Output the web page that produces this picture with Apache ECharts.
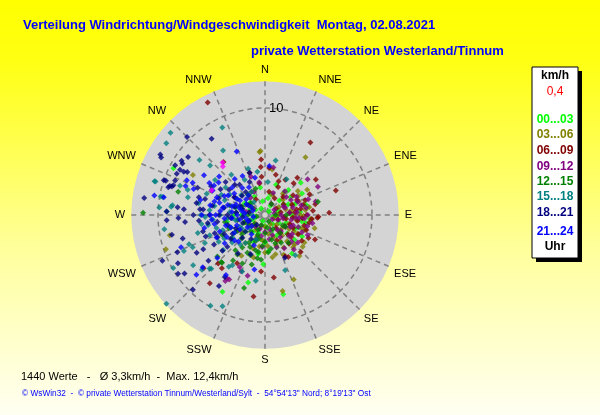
<!DOCTYPE html>
<html lang="de">
<head>
<meta charset="UTF-8">
<title>Windrichtung/Windgeschwindigkeit</title>
<script src="https://cdn.jsdelivr.net/npm/echarts@6/dist/echarts.min.js"></script>
<style>
  html, body { margin: 0; padding: 0; }
  #chart { width: 600px; height: 415px; }
</style>
</head>
<body>
<div id="chart"></div>
<script>
// Himmelsrichtungen, im Uhrzeigersinn ab Nord
const directions = ['N', 'NNE', 'NE', 'ENE', 'E', 'ESE', 'SE', 'SSE',
                    'S', 'SSW', 'SW', 'WSW', 'W', 'WNW', 'NW', 'NNW'];

const hourLabels = ['00...03', '03...06', '06...09', '09...12',
                    '12...15', '15...18', '18...21', '21...24'];
const hourColors = ['#00ff00', '#808000', '#800000', '#800080',
                    '#008000', '#008080', '#000080', '#0000ff'];

// Werte je Zeitfenster: [Geschwindigkeit km/h, Richtung Grad]
const h00 = [[9.6,297],[8.2,209],[6.5,194],[4.6,182],[7.6,167],[3.9,101],[4.1,79],[4.5,48],[3.2,43],
  [2.0,60],[2.5,90],[1.5,120],[3.0,70],[1.0,30],[2.2,150],[3.4,110],[2.8,40],[1.8,200],[3.6,130],
  [1.2,250],[0.8,100],[2.6,180],[3.0,20],[4.0,60],[2.0,330],[1.5,290],[3.2,160],[2.4,230],[4.2,95],
  [1.0,180],[2.9,270],[3.7,190],[1.6,10],[2.2,300],[4.4,145],
  [1.3,75],[2.1,110],[2.7,130],[1.9,45],[3.3,85],[0.6,200],[1.1,140],[2.4,65],[3.5,100],[1.7,160],
  [2.9,55],[0.9,260],[2.3,190],[3.1,115],[1.4,220],[4.0,120],[2.0,15],[2.6,350],[1.8,310],[3.9,75],
  [1.2,95],[2.7,205],[0.5,45],[3.4,175],[2.1,250],
  [1.5,250],[2.2,270],[2.8,285],[1.0,300],[3.3,240],[1.9,215],[0.7,330],[2.5,320],[3.6,260],[1.3,350]];
const h03 = [[6.6,35],[6.0,356],[5.9,355],[6.6,156],[7.3,167],[4.0,139],[3.6,91],[9.8,251],[9.1,258],
  [4.3,9],[4.6,59],[3.8,54],[3.4,68],[2.7,68],[3.8,83],[7.7,299],
  [2.5,80],[3.0,100],[2.0,130],[3.5,120],[1.5,60],[2.8,150],[4.0,110],[1.8,170],[3.2,140],[4.5,125],
  [2.2,200],[3.8,165],[1.2,90],[4.2,80],[2.6,40],[3.0,190],[1.0,150],[4.8,105],[2.4,110],[3.6,60],
  [5.0,140],[2.0,20],[1.6,230],
  [1.8,100],[2.6,120],[3.3,90],[2.2,160],[3.9,135],[1.4,130],[2.9,175],[3.5,150],[4.3,95],[1.1,180],
  [2.0,75],[3.1,120],[4.1,155],[2.4,185],[1.6,210],[3.7,110],[2.8,95],[4.6,130],[1.9,140],[3.3,200],
  [2.5,140],[0.9,110],[4.0,170],[3.0,160],[2.2,50],
  [1.2,230],[2.0,250],[3.2,215],[2.7,235],[4.1,195],[1.5,280],[3.5,180],[4.4,210]];
const h06 = [[11.8,333],[8.0,32],[7.0,71],[5.2,356],[6.3,322],[4.5,355],[8.2,219],[7.7,188],[5.3,184],
  [5.9,172],[4.8,136],[6.0,88],[4.9,93],[5.0,92],[5.2,116],[4.6,118],[4.5,151],[4.3,154],[5.8,55],
  [4.6,41],[4.0,42],[3.4,22],[7.6,229],[6.3,224],[6.4,219],[5.2,210],
  [3.0,80],[3.5,95],[2.5,110],[4.0,70],[2.0,60],[3.8,105],[4.2,100],[2.8,130],[1.5,80],[3.2,55],
  [4.5,85],[2.2,140],[3.6,120],[1.8,30],[4.8,78],[2.6,95],[3.3,65],
  [2.3,85],[3.1,100],[1.8,95],[2.7,70],[3.9,90],[2.1,120],[3.4,80],[4.4,95],[1.3,110],[2.9,115],
  [3.7,75],[2.4,45],[1.6,140],[4.1,110],[3.2,130],[2.0,100],[4.6,65],[3.5,140],[1.2,60],[2.8,85],
  [3.0,350],[2.5,330],[3.8,30],[2.6,155],[4.2,125],
  [3.6,355],[4.2,340],[2.2,10],[3.9,15],[1.7,330],[2.9,25],[4.4,5]];
const h09 = [[5.2,50],[5.6,62],[4.9,75],[3.3,68],[6.9,209],[6.9,211],[7.2,211],[5.4,206],[5.7,203],[5.9,196],
  [1.5,90],[2.0,70],[2.5,100],[3.0,85],[1.0,60],[2.2,120],[3.5,75],[2.8,110],[1.8,140],[3.2,95],
  [4.0,90],[1.2,30],[2.6,50],[3.8,115],[2.0,160],[4.3,70],[3.0,130],[1.6,180],[2.4,200],[3.4,60],
  [0.8,120],[4.5,100],[2.9,40],[3.6,150],[1.4,220],[2.2,20],[4.0,130],
  [1.7,100],[2.3,85],[2.9,95],[3.3,110],[1.3,110],[2.1,135],[3.7,95],[2.7,75],[1.9,65],[3.1,125],
  [4.1,105],[0.9,80],[2.5,145],[3.5,135],[1.5,160],[2.3,170],[3.9,80],[2.8,60],[1.1,200],[3.2,160],
  [4.4,115],[2.0,190],[1.7,240],[3.0,185],[2.6,115],[4.2,140],[1.2,300],[2.4,335],
  [1.8,280],[2.6,260],[3.3,300],[2.1,320],[3.8,340],[4.5,10],[2.9,240],[1.4,200],[3.1,350]];
const h12 = [[11.4,271],[8.4,285],[6.0,222],[7.1,196],[5.9,229],[6.0,223],[5.1,76],
  [2.0,200],[2.5,180],[3.0,210],[3.5,190],[1.5,150],[2.8,230],[4.0,200],[4.5,215],[1.8,240],
  [3.2,170],[2.2,120],[1.0,200],[3.8,235],[4.2,185],[2.6,260],[1.4,300],[3.0,150],[5.0,205],
  [2.0,90],[1.2,30],[3.6,250],[4.8,195],[2.4,320],[0.8,260],[3.4,140],[5.2,215],
  [1.7,180],[2.3,195],[2.9,185],[3.3,205],[1.2,170],[2.0,220],[3.7,215],[2.6,200],[1.5,205],
  [3.1,225],[4.1,190],[0.7,150],[2.4,165],[3.5,175],[2.0,250],[2.7,275],[3.9,205],[1.9,120],
  [1.0,90],[3.0,240],[4.3,220],[2.2,140],[1.6,270],[3.4,195],[2.8,160],
  [2.3,290],[3.1,265],[1.7,310],[2.6,340],[3.8,260],[4.4,245],[1.3,230],[3.4,285]];
const h15 = [[11.7,311],[9.1,334],[11.4,306],[5.2,11],[7.2,327],[8.0,310],[6.9,312],[10.8,287],
  [8.4,289],[9.9,280],[9.7,280],[8.8,275],[9.9,274],[8.7,276],[9.5,262],[9.9,240],[8.2,235],
  [7.8,229],[12.4,228],[9.9,211],[9.4,205],[7.2,226],[6.2,188],[5.7,202],[5.5,160],[4.7,143],
  [3.9,31],[5.7,305],[10.7,287],[7.6,288],[7.4,283],[9.2,272],[7.6,249],[7.4,246],[8.3,246],
  [7.1,225],[5.6,213],[5.9,215],
  [6.0,270],[5.4,260],[4.8,280],[4.2,250],[3.5,265],[5.0,240],[6.5,255],[3.0,285],[2.5,240],
  [4.0,230],[5.8,290],[3.8,300],[2.0,270],[6.2,245],[4.5,295],[1.5,250],[3.2,215],
  [2.8,260],[3.4,250],[4.2,270],[4.9,265],[5.5,250],[3.7,235],[2.2,285],[3.1,300],[4.4,240],
  [5.2,275],[1.9,230],[3.9,280],[4.7,255],[2.6,245],[6.0,262],[3.3,275],[5.1,230],[4.0,290],
  [1.2,270],[2.9,310],[5.6,268],[3.6,220],[4.5,305],[2.4,200],[6.3,280],
  [3.8,330],[4.6,340],[4.1,350],[3.1,5],[2.5,330],[2.0,300],[1.6,320],[4.9,320]];
const h18 = [[10.3,315],[8.7,325],[11.3,300],[11.1,299],[9.3,303],[9.0,307],[9.0,298],[8.6,298],
  [10.0,289],[9.3,287],[9.0,288],[11.4,278],[8.2,275],[9.2,272],[8.9,258],[10.5,246],[9.3,241],
  [9.8,236],[9.3,234],[9.7,224],[7.9,213],[6.9,213],[9.6,299],[9.1,302],[8.3,299],[9.1,295],
  [9.8,289],[9.4,286],[9.1,287],[9.0,291],[7.6,274],[9.2,267],[8.1,268],[7.5,265],[8.0,254],
  [8.9,247],[6.6,241],[7.3,241],[6.8,231],[4.4,155],
  [6.5,280],[5.8,285],[5.2,270],[4.5,262],[6.0,255],[5.5,295],[4.8,300],[3.9,280],[3.2,265],
  [2.5,290],[4.2,245],[5.0,250],[6.2,265],[3.5,240],[2.8,310],[4.0,315],[6.8,292],[5.5,240],
  [3.0,225],[2.2,250],[1.5,280],[4.6,230],[5.8,275],
  [3.6,255],[4.3,270],[5.0,280],[4.6,290],[3.3,300],[2.7,275],[5.4,262],[6.1,275],[3.9,235],
  [4.9,245],[2.1,265],[5.7,298],[4.1,305],[3.0,245],[6.4,285],[2.4,230],[4.4,215],[5.2,230],
  [6.7,270],[3.7,320],[1.8,300],[5.9,250],[4.8,310],[2.9,285],[3.5,270],
  [1.6,250],[2.2,285],[2.8,320],[3.4,335],[4.2,340],[1.2,220],[2.6,210],[3.9,200]];
const h21 = [[6.5,336],[10.5,280],[8.0,294],[7.6,230],[6.8,303],[7.4,294],[7.1,290],[7.9,290],
  [9.6,280],[8.4,249],[8.5,229],[6.7,213],[6.0,228],[5.2,191],[4.6,5],
  [5.5,300],[4.8,290],[4.2,275],[3.6,285],[3.0,300],[2.6,270],[3.8,255],[4.5,250],[5.0,265],
  [2.0,300],[1.8,260],[3.3,240],[4.0,310],[5.2,280],[2.4,320],[1.2,290],[3.5,225],[4.6,235],
  [5.8,258],[2.8,250],[6.2,283],[3.9,298],[1.6,230],[4.4,320],[5.6,310],[3.1,265],[2.2,280],
  [2.4,260],[3.1,275],[3.8,265],[4.4,285],[5.1,270],[2.9,290],[3.5,305],[4.2,295],[4.8,260],
  [5.4,295],[1.9,275],[2.7,240],[3.4,250],[4.1,240],[5.0,245],[2.3,310],[3.0,330],[5.9,270],
  [1.5,300],[4.6,270],[3.7,230],[2.0,235],[5.3,305],[6.0,300],[3.2,285],[4.0,280],
  [1.7,250],[2.5,285],[3.3,320],[4.2,330],[1.1,260],[2.2,215],[3.0,200],[3.6,345],[2.7,300],[4.9,285]];
const marked = [[6.0,319],[6.3,321],[5.5,295]];

const hourData = [h00, h03, h06, h09, h12, h15, h18, h21];

const chart = echarts.init(document.getElementById('chart'));

const series = hourData.map((d, i) => ({
    name: hourLabels[i],
    type: 'scatter',
    coordinateSystem: 'polar',
    symbol: 'diamond',
    symbolSize: 6,
    itemStyle: { color: hourColors[i] },
    data: d
}));
series.push({
    name: 'markiert',
    type: 'scatter',
    coordinateSystem: 'polar',
    symbol: 'diamond',
    symbolSize: 6,
    itemStyle: { color: '#ff00ff' },
    data: marked
});

// grauer Kreis hinter den Achsen
const elements = [
    { type: 'circle', z: -10, shape: { cx: 265, cy: 215, r: 133.75 }, style: { fill: '#d4d4d4' } }
];

// Legendenkasten rechts
elements.push(
    { type: 'rect', shape: { x: 536, y: 71, width: 46, height: 191 }, style: { fill: '#000' } },
    { type: 'rect', shape: { x: 532, y: 67, width: 46, height: 191 }, style: { fill: '#fff', stroke: '#000', lineWidth: 1 } },
    { type: 'text', x: 555, y: 76, style: { text: 'km/h', fill: '#000', font: 'bold 12px "Liberation Sans"', align: 'center', verticalAlign: 'middle' } },
    { type: 'text', x: 555, y: 92, style: { text: '0,4', fill: '#ff0000', font: '12px "Liberation Sans"', align: 'center', verticalAlign: 'middle' } },
    { type: 'text', x: 555, y: 247, style: { text: 'Uhr', fill: '#000', font: 'bold 12px "Liberation Sans"', align: 'center', verticalAlign: 'middle' } }
);
const legendY = [120, 135, 151, 167, 182, 197, 213, 232];
hourLabels.forEach((lab, i) => {
    elements.push({
        type: 'text', x: 555, y: legendY[i],
        style: { text: lab, fill: hourColors[i], font: 'bold 12px "Liberation Sans"', align: 'center', verticalAlign: 'middle' }
    });
});

elements.push(
    { type: 'text', x: 21, y: 377, style: { text: '1440 Werte   -   Ø 3,3km/h  -  Max. 12,4km/h', fill: '#000', font: '11px "Liberation Sans"', verticalAlign: 'middle' } },
    { type: 'text', x: 22, y: 394, style: { text: '© WsWin32  -  © private Wetterstation Tinnum/Westerland/Sylt  -  54°54\'13" Nord; 8°19\'13" Ost', fill: '#0000ff', font: '8.3px "Liberation Sans"', verticalAlign: 'middle' } }
);

chart.setOption({
    animation: false,
    backgroundColor: {
        type: 'linear', x: 0, y: 0, x2: 0, y2: 1,
        colorStops: [
            { offset: 0, color: '#ffff00' },
            { offset: 0.15, color: '#ffff14' },
            { offset: 0.6, color: '#ffff9c' },
            { offset: 1, color: '#fffff2' }
        ]
    },
    textStyle: { fontFamily: '"Liberation Sans", Arial, sans-serif' },
    title: [
        {
            text: 'Verteilung Windrichtung/Windgeschwindigkeit  Montag, 02.08.2021',
            left: 18, top: 14,
            textStyle: { color: '#0000ff', fontSize: 13, fontWeight: 'bold', fontFamily: '"Liberation Sans", sans-serif' }
        },
        {
            text: 'private Wetterstation Westerland/Tinnum',
            left: 246, top: 40,
            textStyle: { color: '#0000ff', fontSize: 13, fontWeight: 'bold', fontFamily: '"Liberation Sans", sans-serif' }
        }
    ],
    polar: { center: [265, 215], radius: 133.75 },
    angleAxis: {
        type: 'value',
        min: 0, max: 360, interval: 22.5,
        startAngle: 90, clockwise: true,
        axisLine: { show: false },
        axisTick: { show: false },
        axisLabel: {
            color: '#000', fontSize: 11, margin: 6,
            formatter: v => directions[Math.round(v / 22.5) % 16]
        },
        splitLine: { show: true, lineStyle: { color: '#808080', width: 1.5, type: [5, 4] } }
    },
    radiusAxis: {
        type: 'value',
        min: 0, max: 12.5, interval: 10,
        axisLine: { show: false },
        axisTick: { show: false },
        axisLabel: {
            color: '#000', fontSize: 13, margin: -4, align: 'left',
            formatter: v => (v === 10 ? '10' : '')
        },
        splitLine: { show: true, lineStyle: { color: ['rgba(0,0,0,0)', '#808080', 'rgba(0,0,0,0)'], width: 1.5, type: [5, 4] } }
    },
    graphic: elements,
    series: series
});
</script>
</body>
</html>
